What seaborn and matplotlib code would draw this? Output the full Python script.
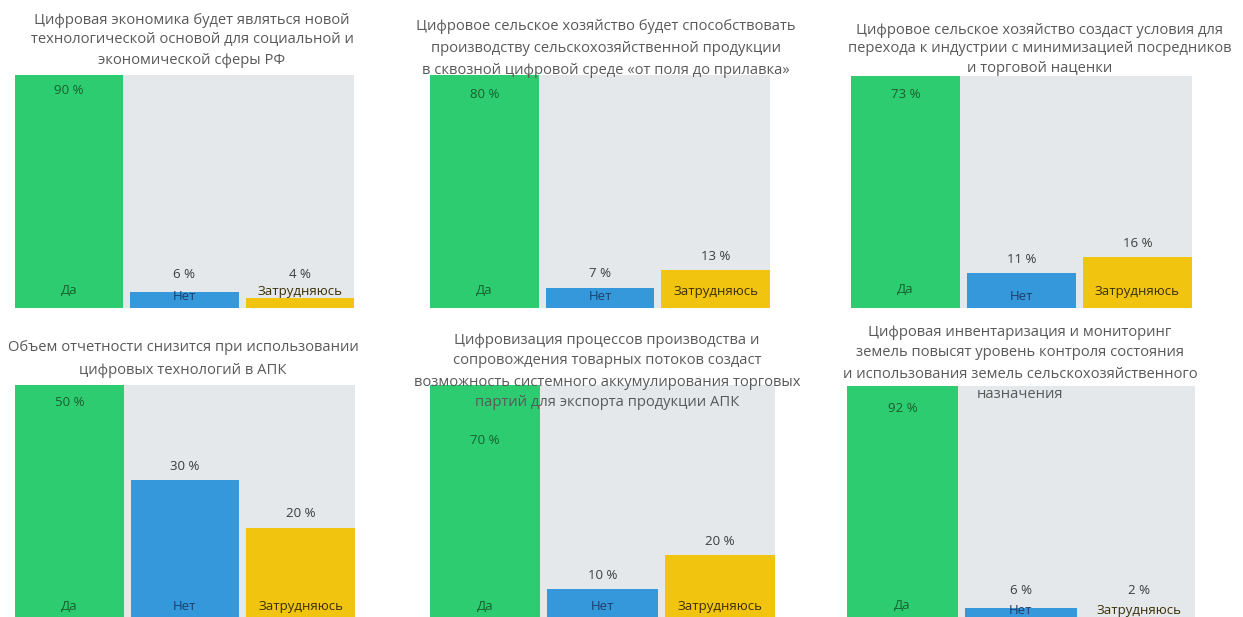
import matplotlib
matplotlib.use("Agg")
import matplotlib.pyplot as plt
import seaborn as sns
import pandas as pd

sns.set_style("white")
plt.rcParams["font.family"] = ["Open Sans", "DejaVu Sans"]

# Answer options and their colours
categories = ["Да", "Нет", "Затрудняюсь"]
bar_colors = ["#2ecc71", "#3498db", "#f1c40f"]
cat_text_colors = ["#17602c", "#1d3f6b", "#3a2f05"]

# Survey questions (one panel each), with their line breaks
titles = [
    ["Цифровая экономика будет являться новой",
     "технологической основой для социальной и",
     "экономической сферы РФ"],
    ["Цифровое сельское хозяйство будет способствовать",
     "производству сельскохозяйственной продукции",
     "в сквозной цифровой среде «от поля до прилавка»"],
    ["Цифровое сельское хозяйство создаст условия для",
     "перехода к индустрии с минимизацией посредников",
     "и торговой наценки"],
    ["Объем отчетности снизится при использовании",
     "цифровых технологий в АПК"],
    ["Цифровизация процессов производства и",
     "сопровождения товарных потоков создаст",
     "возможность системного аккумулирования торговых",
     "партий для экспорта продукции АПК"],
    ["Цифровая инвентаризация и мониторинг",
     "земель повысят уровень контроля состояния",
     "и использования земель сельскохозяйственного",
     "назначения"],
]

# Share of answers, %: Да / Нет / Затрудняюсь
answers_1 = [90, 6, 4]
answers_2 = [80, 7, 13]
answers_3 = [73, 11, 16]
answers_4 = [50, 30, 20]
answers_5 = [70, 10, 20]
answers_6 = [92, 6, 2]
answers = [answers_1, answers_2, answers_3, answers_4, answers_5, answers_6]

# ---- layout (pixels, origin top-left) ----
W, H = 1243, 617
axes_boxes = [
    (15, 75, 354, 308),
    (430, 75, 770, 308),
    (851, 76, 1192, 308),
    (15, 385, 355, 623),
    (430, 385, 775, 623),
    (847, 386, 1195, 623),
]
title_x = [192, 606, 1040, 183, 607, 1020]
title_line_y = [
    [20, 40, 61],
    [27, 48, 70],
    [30, 49, 68],
    [348, 370],
    [340, 361, 382, 402],
    [333, 353, 374, 395],
]
# distance of the "Да" value label below the top of the panel, px
yes_label_drop = [15, 20, 19, 17, 55, 22]
# height of the answer name above the panel base, px
cat_label_height = [[18, 12, 16], [18, 12, 16], [19, 12, 16],
                    [17, 17, 17], [17, 17, 17], [18, 13, 13]]

fig = plt.figure(figsize=(W / 100, H / 100), dpi=100)
fig.patch.set_facecolor("white")

for k, (vals, box) in enumerate(zip(answers, axes_boxes)):
    x0, y0, x1, y1 = box
    ax = fig.add_axes([x0 / W, 1 - y1 / H, (x1 - x0) / W, (y1 - y0) / H])
    df = pd.DataFrame({"answer": categories, "share": vals})
    sns.barplot(data=df, x="answer", y="share", hue="answer",
                palette=dict(zip(categories, bar_colors)), width=0.94,
                saturation=1, legend=False, linewidth=0, edgecolor="none",
                ax=ax)
    ax.set_facecolor("#e4e8ea")
    ymax = vals[0]
    ax.set_ylim(0, ymax)
    ax.set_xlim(-0.47, 2.47)
    ax.set_xticks([])
    ax.set_yticks([])
    ax.set_xlabel("")
    ax.set_ylabel("")
    for s in ax.spines.values():
        s.set_visible(False)

    ppu = (y1 - y0) / ymax  # pixels per percent
    for i, (cat, v) in enumerate(zip(categories, vals)):
        # answer name near the base of the bar
        ax.text(i, cat_label_height[k][i] / ppu, cat, ha="center", va="center",
                fontsize=9.5, color=cat_text_colors[i], zorder=5)
        if i == 0:
            ax.text(i, ymax - yes_label_drop[k] / ppu, f"{v} %", ha="center",
                    va="center", fontsize=9.5, color="#17602c", zorder=5)
        else:
            ypx = max(v * ppu + 14, 33)
            ax.text(i, ypx / ppu, f"{v} %", ha="center", va="center",
                    fontsize=9.5, color="#3c3c3c", zorder=5)

    for line, ly in zip(titles[k], title_line_y[k]):
        fig.text(title_x[k] / W, 1 - ly / H, line, ha="center", va="center",
                 fontsize=10.6, color="#595959", zorder=10)

fig.savefig("out.png", dpi=100, facecolor="white")
